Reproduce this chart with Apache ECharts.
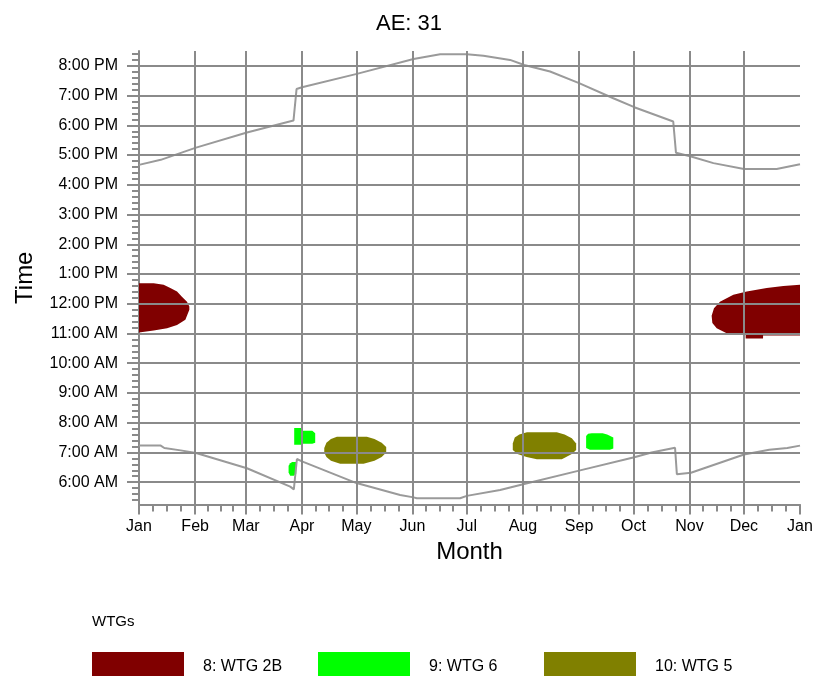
<!DOCTYPE html>
<html><head><meta charset="utf-8">
<script src="https://cdn.jsdelivr.net/npm/echarts@6/dist/echarts.min.js"></script>
<style>html,body{margin:0;padding:0;background:#fff}#c{width:818px;height:676px}</style>
</head><body><div id="c"></div>
<script>
// ---- axis data ----
const monthNames = ['Jan','Feb','Mar','Apr','May','Jun','Jul','Aug','Sep','Oct','Nov','Dec','Jan'];
const monthStartDays = [0,31,59,90,120,151,181,212,243,273,304,334,365];
const hourTicks = [6,7,8,9,10,11,12,13,14,15,16,17,18,19,20];
const hourLabels = ['6:00 AM','7:00 AM','8:00 AM','9:00 AM','10:00 AM','11:00 AM','12:00 PM','1:00 PM','2:00 PM','3:00 PM','4:00 PM','5:00 PM','6:00 PM','7:00 PM','8:00 PM'];

// ---- sunset / sunrise (day of year, hour) ----
const sunsetDays  = [0,12,31.5,59.6,85.3,86.0,87.0,90,120.3,151.6,166.3,181,190.2,204.9,212.7,227,243,261.9,273.5,295,296.5,304.8,317.2,334.1,352.1,365];
const sunsetTimes = [16.67,16.84,17.25,17.76,18.16,18.2,19.22,19.28,19.73,20.23,20.39,20.39,20.34,20.2,20.03,19.81,19.42,18.91,18.61,18.13,17.08,16.95,16.73,16.53,16.53,16.69];
const sunriseDays  = [0,12,14,23,31.5,59.6,83.5,85.5,86.5,87.2,90,120.1,144.2,151.6,153.4,177.3,181,199.4,212.7,243,273.5,283,296,297,304.8,334.1,348,358,365];
const sunriseTimes = [7.23,7.23,7.15,7.07,6.98,6.47,5.85,5.76,5.76,6.78,6.70,5.97,5.57,5.49,5.46,5.46,5.54,5.74,5.94,6.39,6.84,7.0,7.16,6.27,6.32,6.93,7.09,7.15,7.23];

// ---- shadow areas (outline: day of year, hour) ----
// 8: WTG 2B
const wtg2bJanDays  = [0,8.1,13.6,17.3,21,23.7,26.5,27.8,27.8,25.6,21,15.5,8.1,0];
const wtg2bJanTimes = [12.69,12.69,12.64,12.53,12.41,12.24,12.07,11.91,11.8,11.46,11.29,11.18,11.1,11.03];
const wtg2bDecDays  = [365,355.8,346.6,335.6,328.2,320.8,317.5,316.2,316.6,319,324.5,330,335,335,344.6,344.6,355,365];
const wtg2bDecTimes = [12.64,12.6,12.53,12.41,12.3,12.07,11.85,11.6,11.35,11.18,11.01,10.95,10.95,10.83,10.83,10.93,10.93,10.93];
// 9: WTG 6
const wtg6AprUpDays  = [85.7,90.1,90.6,95.7,97.3,97.3,95.7,90.6,90.1,85.7];
const wtg6AprUpTimes = [7.82,7.82,7.73,7.73,7.65,7.33,7.29,7.29,7.26,7.26];
const wtg6AprLoDays  = [84.6,86.8,86.8,85.5,83.5,82.6,82.6,83.5];
const wtg6AprLoTimes = [6.68,6.68,6.30,6.22,6.22,6.33,6.55,6.64];
const wtg6SepDays  = [246.9,248,250,256,258.5,261.9,261.9,260,249,246.9];
const wtg6SepTimes = [7.55,7.63,7.65,7.65,7.6,7.5,7.13,7.09,7.09,7.15];
// 10: WTG 5
const wtg5MayDays  = [102.3,103.5,106,109.3,125.8,130,134,136.5,136.5,134,130,124,111.1,106,103.5,102.3];
const wtg5MayTimes = [7.15,7.33,7.45,7.53,7.53,7.45,7.33,7.18,7.0,6.85,6.72,6.62,6.62,6.72,6.85,7.0];
const wtg5AugDays  = [206.4,207.5,210,214.2,230.7,235,239,241.4,241.4,239,233.5,219.7,214,209,206.4];
const wtg5AugTimes = [7.3,7.5,7.6,7.68,7.68,7.6,7.48,7.3,7.08,6.95,6.77,6.77,6.85,6.95,7.08];

const seriesNames = ['8: WTG 2B','9: WTG 6','10: WTG 5'];
const seriesColors = ['#800000','#00ff00','#808000'];
const seriesPolys = [
  [[wtg2bJanDays,wtg2bJanTimes],[wtg2bDecDays,wtg2bDecTimes]],
  [[wtg6AprUpDays,wtg6AprUpTimes],[wtg6AprLoDays,wtg6AprLoTimes],[wtg6SepDays,wtg6SepTimes]],
  [[wtg5MayDays,wtg5MayTimes],[wtg5AugDays,wtg5AugTimes]]
];

const FONT = 'Liberation Sans, Arial, sans-serif';
const GRID_COLOR = '#8a8a8a';

// minor tick positions
const minorX = [];
for (let m = 0; m < 12; m++) {
  const a = monthStartDays[m], b = monthStartDays[m+1];
  for (let k = 1; k < 4; k++) minorX.push(a + (b - a) * k / 4);
}
const minorY = [];
for (let i = 27; i <= 102; i++) { if (i % 5 !== 0) minorY.push(i / 5); }

const zip = (a, b) => a.map((v, i) => [v, b[i]]);

const shadowSeries = seriesNames.map((name, si) => ({
  type: 'custom',
  name: name,
  xAxisIndex: 0, yAxisIndex: 0,
  itemStyle: { color: seriesColors[si] },
  clip: true,
  z: 1,
  silent: true,
  encode: { x: 0, y: 1 },
  data: seriesPolys[si].map((p, i) => [p[0][0], p[1][0], i]),
  renderItem: function (params, api) {
    const p = seriesPolys[si][api.value(2)];
    const pts = p[0].map((d, k) => api.coord([d, p[1][k]]));
    return { type: 'polygon', shape: { points: pts }, style: { fill: seriesColors[si] } };
  }
}));

const chart = echarts.init(document.getElementById('c'), null, { renderer: 'canvas' });
chart.setOption({
  animation: false,
  backgroundColor: '#fff',
  title: [
    { text: 'AE: 31', left: 'center', top: 8, textStyle: { fontFamily: FONT, fontSize: 22, fontWeight: 'normal', color: '#000' } },
    { text: 'WTGs', left: 92, top: 614, padding: 0, textStyle: { fontFamily: FONT, fontSize: 15, fontWeight: 'normal', color: '#000' } }
  ],
  legend: seriesNames.map((n, i) => ({
    data: [n], left: [92, 318, 544][i], top: 652, padding: 0, icon: 'rect', itemWidth: 92, itemHeight: 30,
    selectedMode: false,
    textStyle: { fontFamily: FONT, fontSize: 16, color: '#000', padding: [0, 0, 0, 14] }
  })),
  grid: { left: 139, right: 18, top: 51, bottom: 171.5, containLabel: false, outerBoundsMode: 'none' },
  xAxis: [
    {
      type: 'value', min: 0, max: 365, position: 'bottom',
      name: 'Month', nameLocation: 'middle', nameGap: 36,
      nameTextStyle: { fontFamily: FONT, fontSize: 24, color: '#000' },
      axisLine: { show: true, lineStyle: { color: GRID_COLOR, width: 2 } },
      axisTick: { show: true, customValues: monthStartDays, length: 10, lineStyle: { color: GRID_COLOR, width: 2 } },
      axisLabel: { show: true, customValues: monthStartDays, margin: 14, fontFamily: FONT, fontSize: 16, color: '#000',
        formatter: v => monthNames[monthStartDays.indexOf(v)] },
      splitLine: { show: false }
    },
    {
      type: 'value', min: 0, max: 365, position: 'bottom', offset: 0,
      axisLine: { show: false },
      axisTick: { show: true, customValues: minorX, length: 7, lineStyle: { color: GRID_COLOR, width: 2 } },
      axisLabel: { show: false },
      splitLine: { show: false }
    }
  ],
  yAxis: [
    {
      type: 'value', min: 5.25, max: 20.5, position: 'left',
      name: 'Time', nameLocation: 'middle', nameGap: 102,
      nameTextStyle: { fontFamily: FONT, fontSize: 24, color: '#000' },
      axisLine: { show: true, lineStyle: { color: GRID_COLOR, width: 2 } },
      axisTick: { show: true, customValues: hourTicks, length: 12, lineStyle: { color: GRID_COLOR, width: 2 } },
      axisLabel: { show: true, customValues: hourTicks, margin: 21, fontFamily: FONT, fontSize: 16, color: '#000',
        formatter: v => hourLabels[hourTicks.indexOf(v)] },
      splitLine: { show: false }
    },
    {
      type: 'value', min: 5.25, max: 20.5, position: 'left', offset: 0,
      axisLine: { show: false },
      axisTick: { show: true, customValues: minorY, length: 7, lineStyle: { color: GRID_COLOR, width: 2 } },
      axisLabel: { show: false },
      splitLine: { show: false }
    }
  ],
  series: shadowSeries.concat([
    {
      type: 'line', name: 'Sunset', xAxisIndex: 0, yAxisIndex: 0, z: 3,
      data: zip(sunsetDays, sunsetTimes), showSymbol: false, symbol: 'none', silent: true,
      lineStyle: { color: '#9a9a9a', width: 2 },
      markLine: {
        silent: true, symbol: ['none', 'none'], label: { show: false }, animation: false,
        lineStyle: { color: GRID_COLOR, width: 2, type: 'solid' },
        emphasis: { disabled: true },
        data: hourTicks.map(h => ({ yAxis: h })).concat(monthStartDays.slice(1, 12).map(d => ({ xAxis: d })))
      }
    },
    {
      type: 'line', name: 'Sunrise', xAxisIndex: 0, yAxisIndex: 0, z: 3,
      data: zip(sunriseDays, sunriseTimes), showSymbol: false, symbol: 'none', silent: true,
      lineStyle: { color: '#9a9a9a', width: 2 }
    }
  ])
});
</script>
</body></html>
